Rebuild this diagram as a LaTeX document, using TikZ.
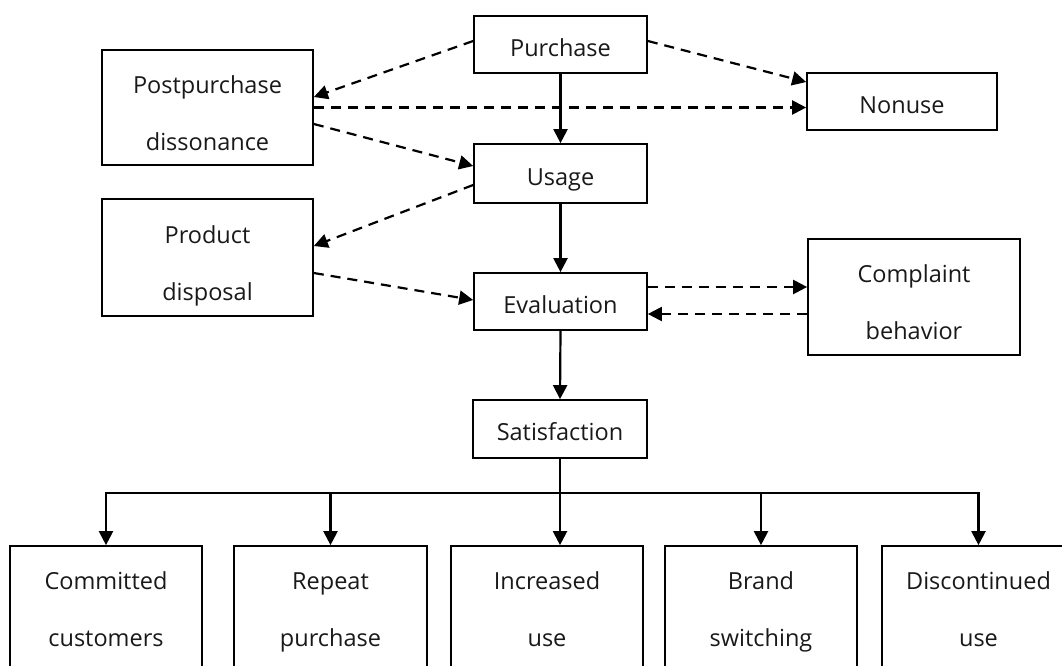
\documentclass[tikz,border=0pt]{standalone}
\usepackage{fontspec}
\setmainfont{Open Sans}
\usetikzlibrary{arrows.meta,calc}
\begin{document}
\begin{tikzpicture}[x=1pt,y=-1pt,
  box/.style={draw,line width=1.7pt,align=center,inner sep=0pt,
    font=\fontsize{23.5}{57}\selectfont,text=black!90,
    execute at begin node={\rule{0pt}{29pt}},
    execute at end node={\vphantom{gp}}},
  topstrut/.style={execute at begin node={\rule{0pt}{#1}}},
  arr/.style={line width=2.2pt,-{Triangle[length=14pt,width=14pt]}},
  darr/.style={arr,dash pattern=on 10pt off 7pt}]
\useasboundingbox (0,0) rectangle (1062,666);
\clip (0,0) rectangle (1062,666);
% upper nodes
\node[box,minimum width=173pt,minimum height=57pt] (pur) at (560.5,44.5) {Purchase};
\node[box,minimum width=173pt,minimum height=59pt] (use) at (560.5,173.5) {Usage};
\node[box,minimum width=173pt,minimum height=57pt] (eva) at (560.5,301.5) {Evaluation};
\node[box,minimum width=174pt,minimum height=58pt] (sat) at (560,429) {Satisfaction};
\node[box,topstrut=91pt,minimum width=211pt,minimum height=115pt] (post) at (207.5,107.5) {Postpurchase\\dissonance};
\node[box,topstrut=91pt,minimum width=211pt,minimum height=117pt] (prod) at (207.5,257.5) {Product\\disposal};
\node[box,minimum width=190pt,minimum height=57pt] (non) at (902,101.5) {Nonuse};
\node[box,topstrut=91pt,minimum width=212pt,minimum height=116pt] (comp) at (914,297) {Complaint\\behavior};
% bottom nodes
\node[box,topstrut=80pt,minimum width=192pt,minimum height=126pt] (com) at (106,609) {Committed\\customers};
\node[box,topstrut=80pt,minimum width=193pt,minimum height=126pt] (rep) at (330.5,609) {Repeat\\purchase};
\node[box,topstrut=80pt,minimum width=192pt,minimum height=126pt] (inc) at (547,609) {Increased\\use};
\node[box,topstrut=80pt,minimum width=192pt,minimum height=126pt] (bra) at (761,609) {Brand\\switching};
\node[box,topstrut=80pt,minimum width=193pt,minimum height=126pt] (dis) at (978.5,609) {Discontinued\\use};
% solid arrows
\draw[arr] (pur.south) -- (use.north);
\draw[arr] (use.south) -- (eva.north);
\draw[arr] (eva.south) -- (sat.north);
\coordinate (br) at ($(sat.south)+(0,34)$);
\draw[arr] (sat.south) -- (sat.south |- inc.north);
\draw[arr] (sat.south |- br) -| (com.north);
\draw[arr] (sat.south |- br) -| (dis.north);
\draw[arr] (rep.north |- br) -- (rep.north);
\draw[arr] (bra.north |- br) -- (bra.north);
% dashed arrows
\draw[darr] ([yshift=3.5pt]pur.west) -- ([yshift=10.5pt]post.east);
\draw[darr] (post.east) -- (post.east -| non.west);
\draw[darr] ([yshift=3.5pt]pur.east) -- ([yshift=19.5pt]non.west);
\draw[darr] ([yshift=-16.5pt]post.east) -- ([yshift=7.5pt]use.west);
\draw[darr] ([yshift=-11.5pt]use.west) -- ([yshift=11.5pt]prod.east);
\draw[darr] ([yshift=-15.5pt]prod.east) -- ([yshift=1.5pt]eva.west);
\draw[darr] ([yshift=14.5pt]eva.east) -- ([yshift=14.5pt]eva.east -| comp.west);
\draw[darr] ([yshift=-12.5pt]eva.east -| comp.west) -- ([yshift=-12.5pt]eva.east);
\end{tikzpicture}
\end{document}
